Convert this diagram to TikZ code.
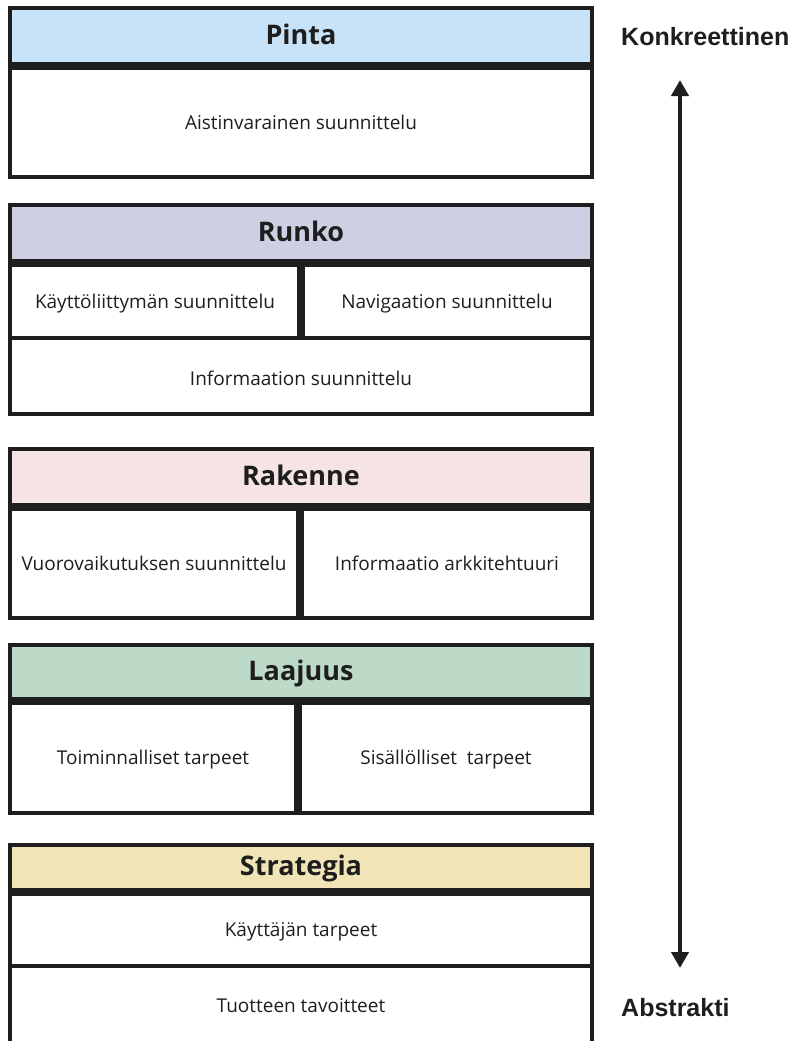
\documentclass[tikz,border=0pt]{standalone}
\usepackage{fontspec}
\setmainfont{Open Sans}
\newfontfamily\sidefont{Liberation Sans}
\usetikzlibrary{arrows.meta}
\definecolor{linec}{HTML}{1E1E1E}
\definecolor{cPinta}{HTML}{C8E3F7}
\definecolor{cRunko}{HTML}{CDCFE3}
\definecolor{cRakenne}{HTML}{F6E3E3}
\definecolor{cLaajuus}{HTML}{BCDAC7}
\definecolor{cStrategia}{HTML}{F1E5B7}
\begin{document}
\begin{tikzpicture}[x=1pt,y=-1pt,
  cell/.style={draw=linec, line width=4pt, fill=white},
  head/.style={font=\fontsize{27}{30}\selectfont\bfseries, text=linec, inner sep=0pt, text height=19.4pt, text depth=0pt},
  body/.style={font=\fontsize{19}{22}\selectfont, text=linec, inner sep=0pt, text height=14.2pt, text depth=0pt},
  side/.style={font=\fontsize{25}{28}\selectfont\sidefont\bfseries, text=linec, inner sep=0pt, anchor=west, text height=18pt, text depth=0pt},
  axis/.style={draw=linec, line width=4pt, {Triangle[width=17pt,length=16pt]}-{Triangle[width=17pt,length=16pt]}}]
\useasboundingbox (0,0) rectangle (795,1041);
% Pinta
\draw[cell, fill=cPinta] (10,8) rectangle (592,64);
\draw[cell] (10,68) rectangle (592,177);
\node[head] (pinta) at (301,35) {Pinta};
\node[body] (aist) at (301,122) {Aistinvarainen suunnittelu};
% Runko
\draw[cell, fill=cRunko] (10,205) rectangle (592,261);
\draw[cell] (10,338) rectangle (592,414);
\draw[cell] (10,265) rectangle (299,338);
\draw[cell] (303,265) rectangle (592,338);
\node[head] (runko) at (301,232) {Runko};
\node[body] (kl) at (155,301) {Käyttöliittymän suunnittelu};
\node[body] (nav) at (447,301) {Navigaation suunnittelu};
\node[body] (info) at (301,378) {Informaation suunnittelu};
% Rakenne
\draw[cell, fill=cRakenne] (10,449) rectangle (592,505);
\draw[cell] (10,509) rectangle (298,618);
\draw[cell] (302,509) rectangle (592,618);
\node[head] (rakenne) at (301,476) {Rakenne};
\node[body] (vuoro) at (154,563) {Vuorovaikutuksen suunnittelu};
\node[body] (ia) at (447,563) {Informaatio arkkitehtuuri};
% Laajuus
\draw[cell, fill=cLaajuus] (10,645) rectangle (592,699);
\draw[cell] (10,703) rectangle (296,813);
\draw[cell] (300,703) rectangle (592,813);
\node[head] (laajuus) at (301,671) {Laajuus};
\node[body] (toim) at (153,757) {Toiminnalliset tarpeet};
\node[body] (sis) at (446,757) {Sisällölliset\ \ tarpeet};
% Strategia
\draw[cell, fill=cStrategia] (10,845) rectangle (592,890);
\draw[cell] (10,894) rectangle (592,966);
\draw[draw=linec, line width=4pt] (10,1045) -- (10,966) -- (592,966) -- (592,1045);
\node[head] (strategia) at (301,866) {Strategia};
\node[body] (kt) at (301,929) {Käyttäjän tarpeet};
\node[body] (tt) at (301,1005) {Tuotteen tavoitteet};
% side axis
\coordinate (top) at (680,80);
\coordinate (bot) at (680,968);
\draw[axis] (top) -- (bot);
\node[side] (konk) at (621,37) {Konkreettinen};
\node[side] (abs) at (621,1007) {Abstrakti};
\end{tikzpicture}
\end{document}
